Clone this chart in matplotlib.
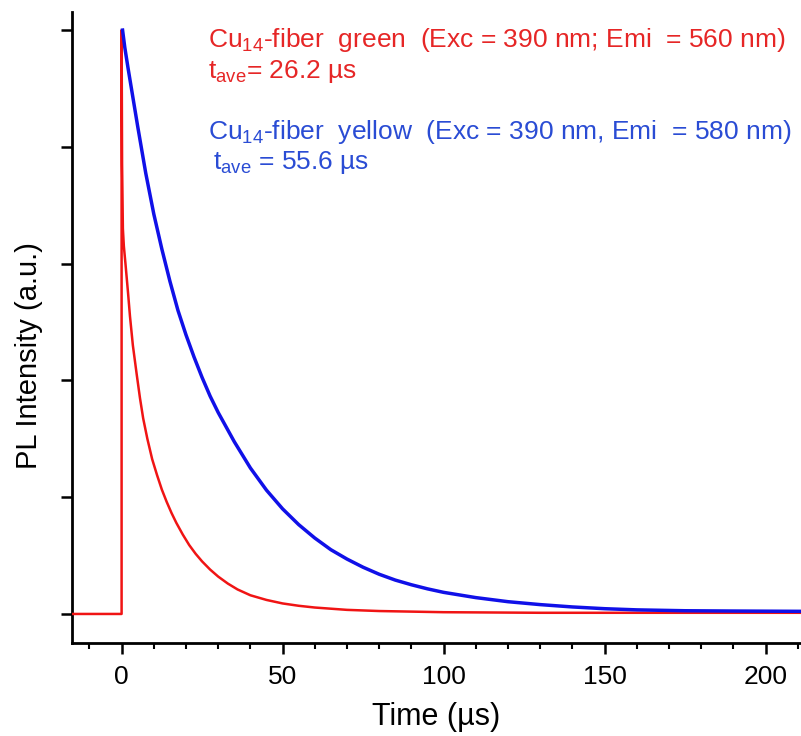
import matplotlib
matplotlib.use("Agg")
import matplotlib.pyplot as plt
from matplotlib.ticker import MultipleLocator

plt.rcParams['font.family'] = ['Liberation Sans', 'DejaVu Sans']
plt.rcParams['mathtext.fontset'] = 'custom'
plt.rcParams['mathtext.rm'] = 'Liberation Sans'
plt.rcParams['mathtext.it'] = 'Liberation Sans:italic'

# Values (normalised PL intensity vs time in µs)
green_time = [-15.4, 0, 0, 0.15, 0.4, 0.7, 1.2, 2, 2.6, 3.5, 4.7, 5.7, 6.7, 8, 9.5,
              11, 12.5, 14, 15.5, 17, 19, 21, 23, 25, 27.5, 30, 33, 36, 40, 45, 50,
              55, 60, 70, 80, 100, 130, 211]
green_int = [0, 0, 1.0, 0.77, 0.66, 0.63, 0.60, 0.55, 0.51, 0.46, 0.41, 0.37, 0.335,
             0.30, 0.265, 0.238, 0.213, 0.192, 0.173, 0.156, 0.136, 0.118, 0.103,
             0.09, 0.076, 0.064, 0.052, 0.042, 0.032, 0.024, 0.018, 0.014, 0.011,
             0.007, 0.005, 0.003, 0.002, 0.002]

yellow_time = [0.3, 1, 2, 3.5, 5, 7.5, 10, 12.5, 15, 17.5, 20, 22.5, 25, 27.5, 30, 35,
               40, 45, 50, 55, 60, 65, 70, 75, 80, 85, 90, 95, 100, 110, 120, 130,
               140, 150, 160, 175, 190, 211]
yellow_int = [1.0, 0.97, 0.935, 0.885, 0.835, 0.755, 0.685, 0.625, 0.57, 0.52, 0.478,
              0.44, 0.405, 0.373, 0.345, 0.295, 0.25, 0.212, 0.18, 0.153, 0.13, 0.11,
              0.094, 0.08, 0.068, 0.058, 0.05, 0.043, 0.037, 0.028, 0.021, 0.016,
              0.012, 0.009, 0.007, 0.0055, 0.005, 0.0045]

x_major = [0, 50, 100, 150, 200]

fig = plt.figure(figsize=(8.01, 7.36), dpi=100)
ax = fig.add_axes([0.0899, 0.1264, 0.9101, 0.8573])

ax.plot(green_time, green_int, color='#f01414', lw=1.8, zorder=3)
ax.plot(yellow_time, yellow_int, color='#1010e8', lw=2.5, zorder=4)

ax.set_xlim(-15.4, 211)
ax.set_ylim(-0.0497, 1.031)

ax.spines['top'].set_visible(False)
ax.spines['right'].set_visible(False)
ax.spines['left'].set_linewidth(2.0)
ax.spines['bottom'].set_linewidth(2.0)

ax.set_xticks(x_major)
ax.xaxis.set_minor_locator(MultipleLocator(10))
ax.set_yticks([0, 0.2, 0.4, 0.6, 0.8, 1.0])
ax.set_yticklabels([])
ax.tick_params(axis='both', which='major', direction='out', length=8, width=1.8,
               labelsize=19, pad=8)
ax.tick_params(axis='x', which='minor', direction='out', length=4, width=1.5)

ax.set_xlabel('Time (µs)', fontsize=22, labelpad=9)
ax.set_ylabel('PL Intensity (a.u.)', fontsize=21)
ax.yaxis.set_label_coords(-0.04, 0.455)

red_txt = '#e62626'
blue_txt = '#2a4cd4'
fs = 19
ax.text(0.1866, 0.9445, r'Cu$_{\mathrm{14}}$-fiber  green  (Exc = 390 nm; Emi  = 560 nm)',
        transform=ax.transAxes, color=red_txt, fontsize=fs, va='baseline', ha='left')
ax.text(0.1866, 0.8954, r't$_{\mathrm{ave}}$= 26.2 µs',
        transform=ax.transAxes, color=red_txt, fontsize=fs, va='baseline', ha='left')
ax.text(0.1866, 0.7987, r'Cu$_{\mathrm{14}}$-fiber  yellow  (Exc = 390 nm, Emi  = 580 nm)',
        transform=ax.transAxes, color=blue_txt, fontsize=fs, va='baseline', ha='left')
ax.text(0.193, 0.7512, r't$_{\mathrm{ave}}$ = 55.6 µs',
        transform=ax.transAxes, color=blue_txt, fontsize=fs, va='baseline', ha='left')

fig.savefig('out.png', dpi=100)
